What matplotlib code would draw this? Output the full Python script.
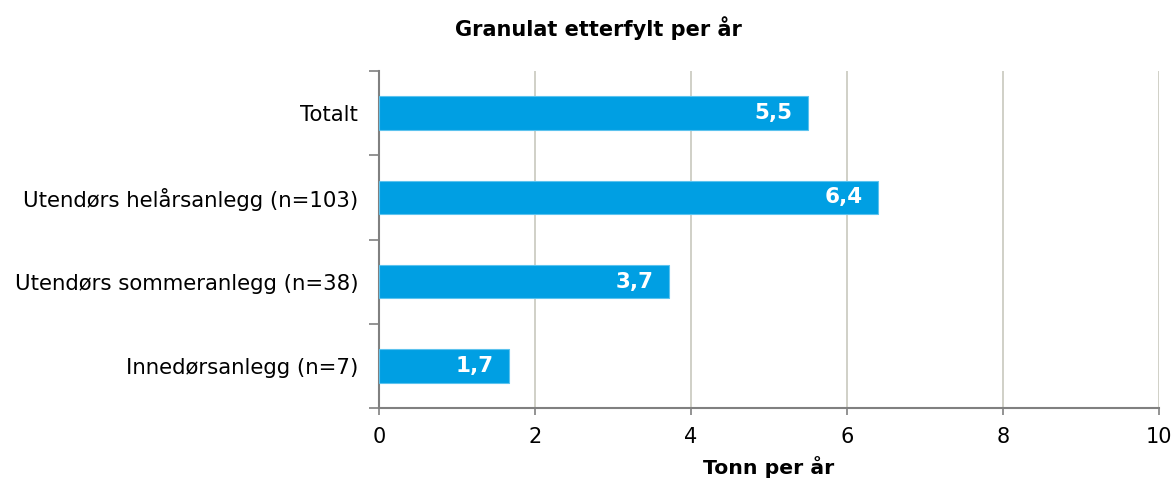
import numpy as np
import matplotlib.pyplot as plt

categories = ["Totalt", "Utendørs helårsanlegg (n=103)", "Utendørs sommeranlegg (n=38)", "Innedørsanlegg (n=7)"]
values = [5.5, 6.4, 3.72, 1.67]
value_labels = ["5,5", "6,4", "3,7", "1,7"]
xticks = [0, 2, 4, 6, 8, 10]

plt.rcParams['font.family'] = ['DejaVu Sans']

fig = plt.figure(figsize=(11.76, 4.82), dpi=100)
ax = fig.add_axes([379 / 1176, 1 - 408 / 482, 780 / 1176, 337 / 482])

ypos = np.arange(len(categories))[::-1]
bars = ax.barh(ypos, values, height=0.4, color="#009FE3", edgecolor="#5CC3EE", linewidth=0.8, zorder=3)

for b, lab in zip(bars, value_labels):
    ax.text(b.get_width() - 0.2, b.get_y() + b.get_height() / 2, lab, ha="right", va="center",
            color="white", fontweight="bold", fontsize=15.5, zorder=4)

ax.set_xlim(0, 10)
ax.set_ylim(-0.5, len(categories) - 0.5)
ax.set_xticks(xticks)
ax.set_xticklabels([str(t) for t in xticks], fontsize=15)
ax.set_yticks(ypos)
ax.set_yticklabels(categories, fontsize=15.3)
ax.tick_params(axis="y", length=0, pad=15)
ax.set_yticks(np.arange(-0.5, len(categories)), minor=True)
ax.tick_params(axis="y", which="minor", length=7, color="#808080", width=1.2)
ax.tick_params(axis="x", length=5, color="#808080", width=1.2, pad=9)

ax.grid(axis="x", color="#C8C8BE", linewidth=1.2, zorder=0)
ax.set_axisbelow(True)
for s in ["top", "right"]:
    ax.spines[s].set_visible(False)
for s in ["left", "bottom"]:
    ax.spines[s].set_color("#808080")
    ax.spines[s].set_linewidth(1.5)

ax.set_xlabel("Tonn per år", fontweight="bold", fontsize=14.7, labelpad=6)
fig.text(598 / 1176, 1 - 28 / 482, "Granulat etterfylt per år",
         ha="center", va="center", fontweight="bold", fontsize=15)

fig.savefig("out.png", dpi=100)
